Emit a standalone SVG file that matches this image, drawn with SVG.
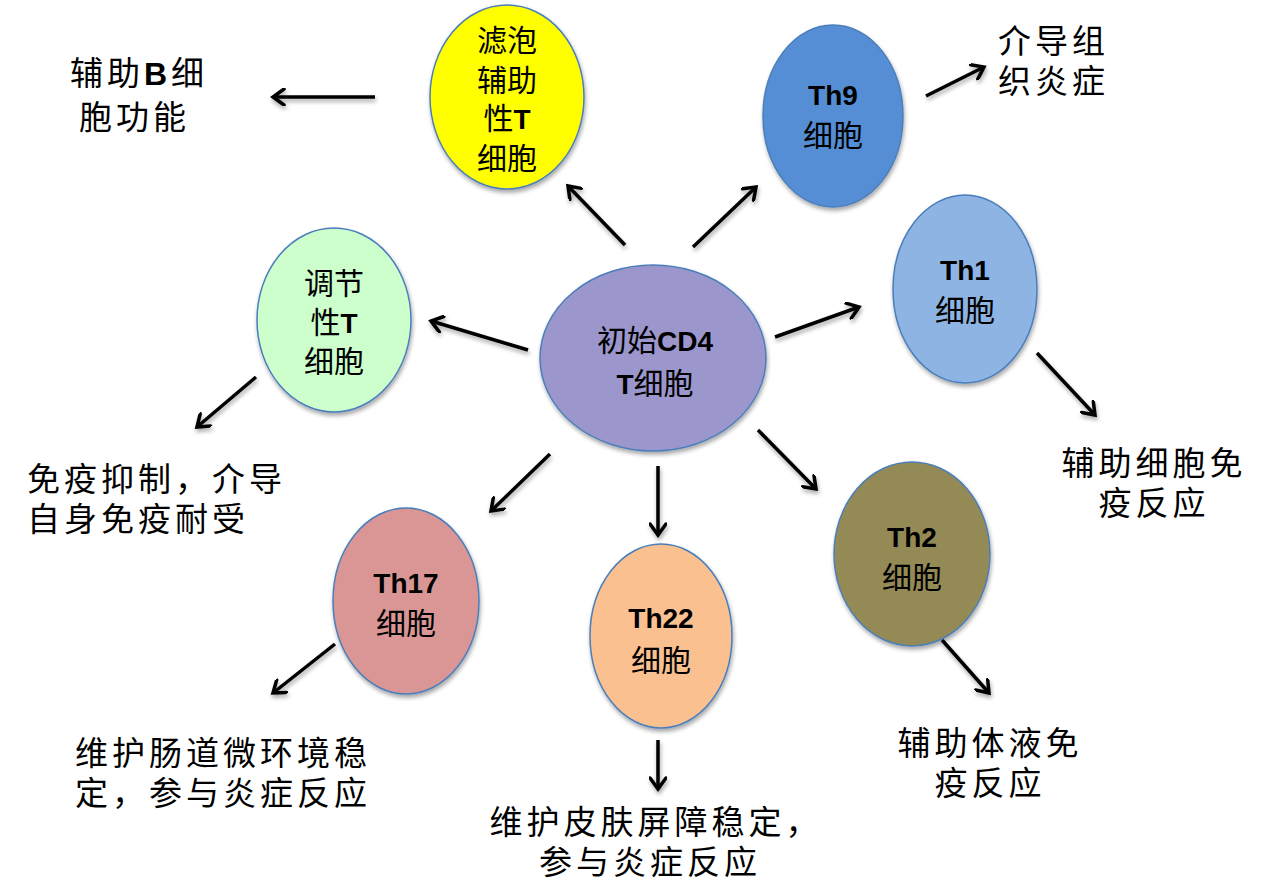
<svg xmlns="http://www.w3.org/2000/svg" width="1270" height="884" viewBox="0 0 1270 884">
<defs>
<filter id="sh" x="-20%" y="-20%" width="140%" height="140%">
<feGaussianBlur in="SourceAlpha" stdDeviation="2"/>
<feOffset dx="1" dy="3" result="b"/>
<feComponentTransfer><feFuncA type="linear" slope="0.35"/></feComponentTransfer>
<feMerge><feMergeNode/><feMergeNode in="SourceGraphic"/></feMerge>
</filter>
<marker id="ah" viewBox="0 0 18 18" markerWidth="18" markerHeight="18" markerUnits="userSpaceOnUse" refX="15" refY="9" orient="auto">
<path d="M4,1 L15,9 L4,17" fill="none" stroke="#000" stroke-width="3.5" stroke-linecap="round" stroke-linejoin="miter"/>
</marker>
<style>
.n{stroke:#4A7EBB;stroke-width:1.5;filter:url(#sh)}
.t{font-family:"Liberation Sans","Noto Sans CJK SC",sans-serif;font-size:30px;fill:#000;text-anchor:middle}
.b{font-weight:bold;font-size:28px}
.o{font-family:"Liberation Sans","Noto Sans CJK SC",sans-serif;font-size:33px;letter-spacing:4px;fill:#000}
.c{text-anchor:middle}
.a line{stroke:#000;stroke-width:3.5;marker-end:url(#ah)}
</style>
</defs>
<rect width="1270" height="884" fill="#fff"/>

<g id="connectors" class="a" filter="url(#sh)">
<line x1="625" y1="245" x2="568" y2="186"/>
<line x1="693" y1="247" x2="756" y2="187"/>
<line x1="775" y1="337" x2="859" y2="307"/>
<line x1="528" y1="350" x2="431" y2="321"/>
<line x1="550" y1="454" x2="491" y2="511"/>
<line x1="658" y1="466" x2="658" y2="535"/>
<line x1="758" y1="430" x2="816" y2="489"/>
<line x1="375" y1="97" x2="273" y2="97"/>
<line x1="926" y1="96" x2="984" y2="67"/>
<line x1="1037" y1="353" x2="1095" y2="415"/>
<line x1="256" y1="377" x2="197" y2="427"/>
<line x1="335" y1="644" x2="273" y2="693"/>
<line x1="658" y1="740" x2="658" y2="789"/>
<line x1="942" y1="640" x2="989" y2="693"/>
</g>

<g id="n-center">
<ellipse class="n" cx="653" cy="358" rx="113" ry="93" fill="#9B96CB"/>
<text class="t" x="655" y="351">初始<tspan class="b">CD4</tspan></text>
<text class="t" x="655" y="394"><tspan class="b">T</tspan>细胞</text>
</g>

<g id="n-tfh">
<ellipse class="n" cx="507" cy="97" rx="77" ry="92" fill="#FFFF00"/>
<text class="t" x="507" y="51">滤泡</text>
<text class="t" x="507" y="91">辅助</text>
<text class="t" x="507" y="129">性<tspan class="b">T</tspan></text>
<text class="t" x="507" y="169">细胞</text>
</g>

<g id="n-th9">
<ellipse class="n" cx="833" cy="116" rx="70" ry="91" fill="#558ED5"/>
<text class="t" x="833" y="105"><tspan class="b">Th9</tspan></text>
<text class="t" x="833" y="146">细胞</text>
</g>

<g id="n-th1">
<ellipse class="n" cx="965" cy="289" rx="72" ry="94" fill="#8EB4E3"/>
<text class="t" x="965" y="280"><tspan class="b">Th1</tspan></text>
<text class="t" x="965" y="321">细胞</text>
</g>

<g id="n-treg">
<ellipse class="n" cx="334" cy="320" rx="77" ry="92" fill="#CCFFCC"/>
<text class="t" x="334" y="294">调节</text>
<text class="t" x="334" y="333">性<tspan class="b">T</tspan></text>
<text class="t" x="334" y="372">细胞</text>
</g>

<g id="n-th17">
<ellipse class="n" cx="406" cy="601" rx="73" ry="93" fill="#D99694"/>
<text class="t" x="406" y="593"><tspan class="b">Th17</tspan></text>
<text class="t" x="406" y="634">细胞</text>
</g>

<g id="n-th22">
<ellipse class="n" cx="661" cy="636" rx="71" ry="92" fill="#FAC090"/>
<text class="t" x="661" y="628"><tspan class="b">Th22</tspan></text>
<text class="t" x="661" y="671">细胞</text>
</g>

<g id="n-th2">
<ellipse class="n" cx="912" cy="554" rx="78" ry="92" fill="#948A54"/>
<text class="t" x="912" y="547"><tspan class="b">Th2</tspan></text>
<text class="t" x="912" y="588">细胞</text>
</g>

<g id="labels">
<text class="o" x="70" y="85">辅助<tspan font-weight="bold" font-size="32">B</tspan>细</text>
<text class="o" x="79" y="129">胞功能</text>
<text class="o" x="998" y="53">介导组</text>
<text class="o" x="998" y="93">织炎症</text>
<text class="o c" x="1154" y="475">辅助细胞免</text>
<text class="o c" x="1154" y="515">疫反应</text>
<text class="o" x="27" y="491">免疫抑制，介导</text>
<text class="o" x="27" y="531">自身免疫耐受</text>
<text class="o" x="75" y="765">维护肠道微环境稳</text>
<text class="o" x="75" y="805">定，参与炎症反应</text>
<text class="o c" x="656" y="834">维护皮肤屏障稳定，</text>
<text class="o c" x="650" y="874">参与炎症反应</text>
<text class="o c" x="990" y="755">辅助体液免</text>
<text class="o c" x="990" y="795">疫反应</text>
</g>
</svg>
